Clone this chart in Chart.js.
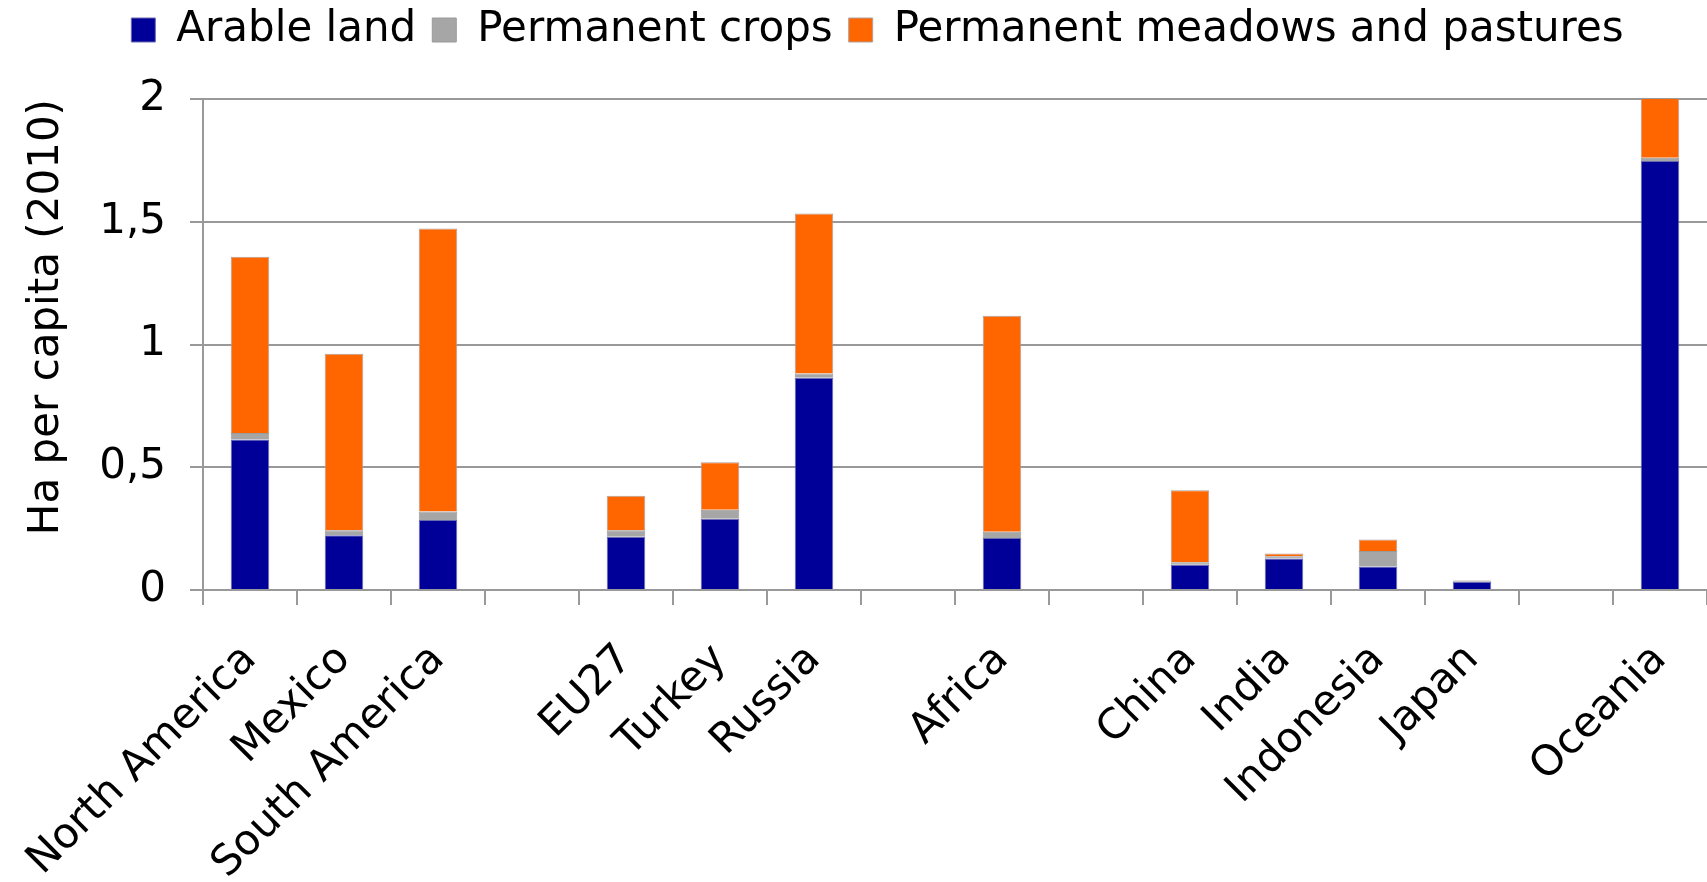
<!DOCTYPE html>
<html lang="en">
  <head>
    <meta charset="UTF-8" />
    <meta name="viewport" content="width=device-width, initial-scale=1.0" />
    <title>Land use per capita</title>
    <style>
      html, body { margin: 0; padding: 0; background: #fff; }
      .chart-view { position: relative; width: 1707px; height: 882px; }
    </style>
  </head>
  <body>
    <div class="chart-view">
      <canvas id="chart"></canvas>
    </div>

    <script src="https://cdn.jsdelivr.net/npm/chart.js@4.4.1/dist/chart.umd.min.js"></script>

    <script>
      //data
      const labels = ['North America', 'Mexico', 'South America', '', 'EU27', 'Turkey', 'Russia', '', 'Africa', '', 'China', 'India', 'Indonesia', 'Japan', '', 'Oceania'];
      const arableLand = [0.613, 0.223, 0.285, null, 0.217, 0.290, 0.865, null, 0.212, null, 0.103, 0.128, 0.096, 0.034, null, 1.747];
      const permanentCrops = [0.027, 0.020, 0.035, null, 0.026, 0.037, 0.017, null, 0.025, null, 0.010, 0.009, 0.063, 0.005, null, 0.014];
      const meadowsPastures = [0.717, 0.719, 1.152, null, 0.141, 0.193, 0.652, null, 0.880, null, 0.293, 0.012, 0.047, 0.001, null, 10.0];
      const yTicks = [0, 0.5, 1, 1.5, 2];

      const FONT = 'DejaVu Sans, Verdana, sans-serif';
      const GRID = '#999999';

      const data = {
        labels: labels,
        datasets: [
          {
            label: 'Arable land',
            data: arableLand,
            backgroundColor: '#000099',
            borderColor: '#6b6bb0',
            borderWidth: 1
          },
          {
            label: 'Permanent crops',
            data: permanentCrops,
            backgroundColor: '#a6a6a6',
            borderColor: '#9a9a9a',
            borderWidth: 1
          },
          {
            label: 'Permanent meadows and pastures',
            data: meadowsPastures,
            backgroundColor: '#ff6600',
            borderColor: '#b0a09a',
            borderWidth: 1
          }
        ]
      };

      // legend: fixed height, nudged up and to the right like the original
      const legendTweak = {
        id: 'legendTweak',
        beforeLayout(chart) {
          const lg = chart.legend;
          if (lg && !lg._fixedFit) {
            const fit = lg.fit;
            lg.fit = function () {
              fit.call(this);
              this.height = 99;
            };
            lg._fixedFit = true;
          }
        },
        afterLayout(chart) {
          const lg = chart.legend;
          if (!lg) return;
          lg.left += 24;
          lg.right += 24;
          lg.top -= 7;
          lg.bottom -= 7;
        }
      };

      //config
      const config = {
        type: 'bar',
        data: data,
        plugins: [legendTweak],
        options: {
          responsive: true,
          maintainAspectRatio: false,
          animation: false,
          layout: { padding: 0 },
          datasets: {
            bar: { categoryPercentage: 1, barPercentage: 0.41 }
          },
          plugins: {
            legend: {
              position: 'top',
              labels: {
                font: { family: FONT, size: 42 },
                color: '#000',
                boxWidth: 24,
                boxHeight: 24,
                padding: 16
              }
            },
            tooltip: { enabled: false }
          },
          scales: {
            x: {
              stacked: true,
              grid: {
                display: true,
                offset: true,
                drawOnChartArea: false,
                drawTicks: true,
                tickLength: 15,
                color: GRID,
                lineWidth: 2
              },
              border: { display: true, color: GRID, width: 2 },
              ticks: {
                autoSkip: false,
                maxRotation: 45,
                minRotation: 45,
                color: '#000',
                font: { family: FONT, size: 42 },
                padding: 30
              },
              afterFit: function (scale) {
                scale.height = 292;
                scale.paddingLeft = 0;
                scale.paddingRight = 0;
              }
            },
            y: {
              stacked: true,
              min: 0,
              max: 2,
              afterBuildTicks: function (scale) {
                scale.ticks = yTicks.map(v => ({ value: v }));
              },
              grid: {
                color: GRID,
                lineWidth: 2,
                drawTicks: true,
                tickLength: 13
              },
              border: { display: true, color: GRID, width: 2 },
              ticks: {
                color: '#000',
                font: { family: FONT, size: 42 },
                padding: 24,
                callback: v => String(v).replace('.', ',')
              },
              title: {
                display: true,
                text: 'Ha per capita (2010)',
                align: 'end',
                color: '#000',
                font: { family: FONT, size: 42 },
                padding: { top: 22, bottom: 0 }
              },
              afterFit: function (scale) { scale.width = 203; }
            }
          }
        }
      };

      //init
      const ctx = document.getElementById('chart');
      const chart = new Chart(ctx, config);
    </script>
  </body>
</html>
